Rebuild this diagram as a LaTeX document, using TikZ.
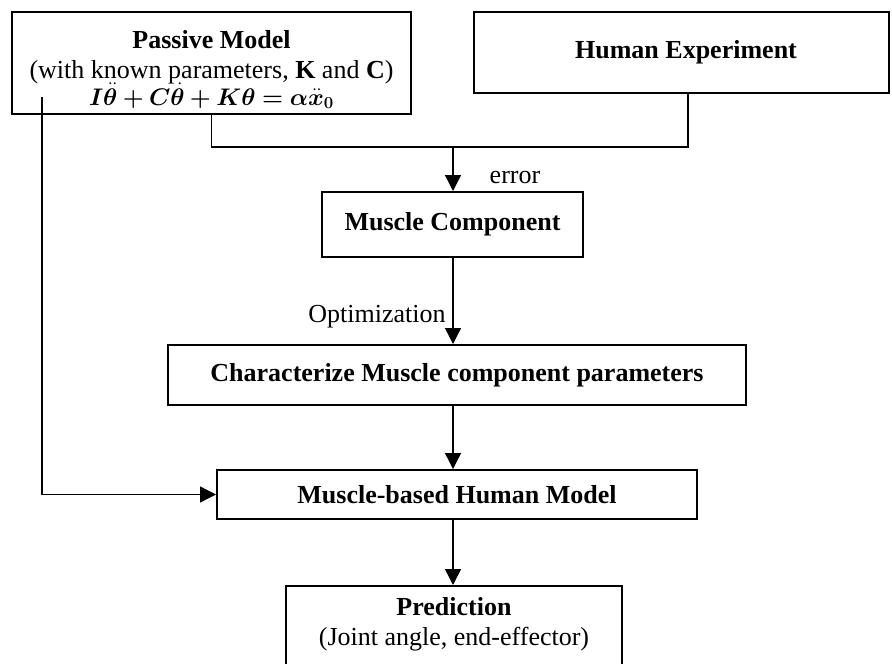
\documentclass[tikz,border=0pt]{standalone}
\usepackage{fix-cm}
\usepackage{amsmath}
\usepackage{bm}
\usepackage{fontspec}
\setmainfont{Liberation Serif}
\usetikzlibrary{arrows.meta,calc}
\begin{document}
\begin{tikzpicture}[x=1pt,y=-1pt,
  box/.style={draw, line width=2pt, rectangle, inner sep=0pt},
  txt/.style={font=\fontsize{26}{30}\selectfont, align=center, inner sep=0pt},
  conn/.style={line width=1.4pt},
  arr/.style={line width=1.4pt, -{Triangle[length=16pt,width=16pt]}}]
\useasboundingbox (0,0) rectangle (892,664);
% boxes
\node[box, minimum width=399pt, minimum height=102pt] (passive) at (211.5,63) {};
\node[txt] (passivetxt) at (211.5,57) {\textbf{Passive Model}\\(with known parameters, \textbf{K} and \textbf{C})};
\node[txt, anchor=base] (eq) at (211.5,105) {\fontsize{24}{28}\selectfont$\bm{I\ddot{\theta}+C\dot{\theta}+K\theta=\alpha\ddot{x}_0}$};
\node[box, minimum width=415pt, minimum height=81pt] (human) at (681.5,52.5) {};
\node[txt] (humantxt) at (686,52.5) {\textbf{Human Experiment}};
\node[box, txt, minimum width=261pt, minimum height=65pt] (muscle) at (452.5,224.5) {\textbf{Muscle Component}};
\node[box, txt, minimum width=578pt, minimum height=60pt] (char) at (457,375) {\textbf{Characterize Muscle component parameters}};
\node[box, txt, minimum width=480pt, minimum height=49pt] (mb) at (457,494.5) {\textbf{Muscle-based Human Model}};
\node[box, minimum width=336pt, minimum height=86pt] (pred) at (454,629) {};
\node[txt] (predtxt) at (454,624) {\textbf{Prediction}\\(Joint angle, end-effector)};
% connectors
\coordinate (j) at (453,147);
\coordinate (lstart) at (42,97);
\draw[conn] (passive.south) |- (j);
\draw[conn] ([xshift=6.5pt]human.south) |- (j);
\draw[arr] (j) -- (j |- muscle.north);
\node[txt] (err) at (515,177) {error};
\draw[arr] (j |- muscle.south) -- (j |- char.north);
\node[txt] (opt) at (377,317) {Optimization};
\draw[arr] (j |- char.south) -- (j |- mb.north);
\draw[arr] (lstart) |- (mb.west);
\draw[arr] (j |- mb.south) -- (j |- pred.north);
\end{tikzpicture}
\end{document}
